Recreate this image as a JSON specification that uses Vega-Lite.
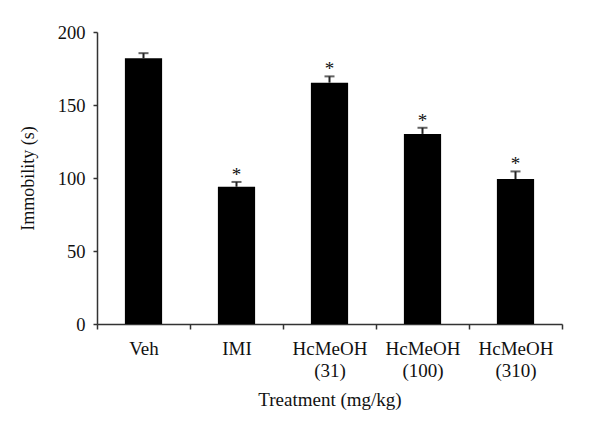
{
  "$schema": "https://vega.github.io/schema/vega-lite/v6.json",
  "width": 465,
  "height": 292,
  "autosize": {"type": "none"},
  "padding": {"left": 97, "top": 32, "right": 38, "bottom": 106},
  "background": "white",
  "config": {
    "view": {"stroke": null},
    "font": "Liberation Serif",
    "axis": {
      "labelFont": "Liberation Serif",
      "titleFont": "Liberation Serif",
      "labelFontSize": 18.5,
      "titleFontSize": 19,
      "titleFontWeight": "normal",
      "labelColor": "#111",
      "titleColor": "#111",
      "domainColor": "#333",
      "tickColor": "#333",
      "domainWidth": 1.5,
      "tickWidth": 1.5,
      "grid": false
    }
  },
  "data": {
    "values": [
      {"treatment": "Veh", "value": 182, "upper": 185.5, "sig": ""},
      {"treatment": "IMI", "value": 94, "upper": 97.3, "sig": "*"},
      {"treatment": "HcMeOH (31)", "value": 165.3, "upper": 169.6, "sig": "*"},
      {"treatment": "HcMeOH (100)", "value": 130.2, "upper": 134.4, "sig": "*"},
      {"treatment": "HcMeOH (310)", "value": 99.3, "upper": 104.5, "sig": "*"}
    ]
  },
  "encoding": {
    "x": {
      "field": "treatment",
      "type": "nominal",
      "sort": null,
      "scale": {"type": "band", "paddingInner": 0, "paddingOuter": 0},
      "axis": {
        "title": "Treatment (mg/kg)",
        "labelAngle": 0,
        "labelExpr": "isValid(datum.value) ? split(datum.value, ' ') : ''",
        "labelPadding": 10,
        "labelLineHeight": 22,
        "labelFontSize": 19,
        "tickBand": "extent",
        "tickSize": 5,
        "titlePadding": 10
      }
    }
  },
  "layer": [
    {
      "mark": {"type": "bar", "color": "black", "width": {"band": 0.4}},
      "encoding": {
        "y": {
          "field": "value",
          "type": "quantitative",
          "scale": {"domain": [0, 200]},
          "axis": {
            "title": "Immobility (s)",
            "titleFontSize": 18,
            "values": [0, 50, 100, 150, 200],
            "tickSize": 4,
            "labelPadding": 8,
            "titlePadding": 20
          }
        }
      }
    },
    {
      "mark": {"type": "rule", "color": "#222", "strokeWidth": 2},
      "encoding": {
        "y": {"field": "value", "type": "quantitative"},
        "y2": {"field": "upper"}
      }
    },
    {
      "mark": {"type": "tick", "color": "#222", "size": 10, "thickness": 2, "orient": "horizontal"},
      "encoding": {
        "y": {"field": "upper", "type": "quantitative"}
      }
    },
    {
      "mark": {"type": "text", "fontSize": 19, "dy": -1, "baseline": "alphabetic", "color": "#111", "font": "Liberation Serif"},
      "encoding": {
        "y": {"field": "upper", "type": "quantitative"},
        "text": {"field": "sig"}
      }
    }
  ]
}
